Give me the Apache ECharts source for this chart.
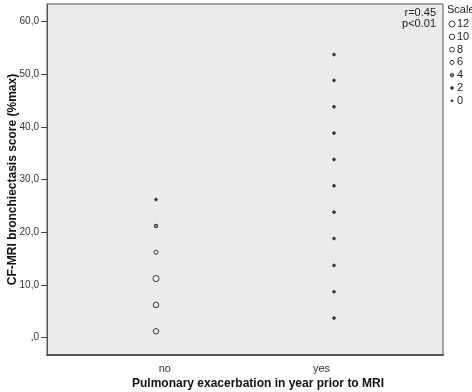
<!DOCTYPE html>
<html>
<head>
<meta charset="utf-8">
<script src="https://cdn.jsdelivr.net/npm/echarts@6/dist/echarts.min.js"></script>
<style>
  html, body { margin: 0; padding: 0; background: #fff; }
  #chart { width: 472px; height: 392px; }
</style>
</head>
<body>
<div id="chart"></div>
<script>
// groups on the x axis
var categories = ['no', 'yes'];
// bronchiectasis score (%max) and "Scale" size for each point
var noValues = [1.2, 6.2, 11.2, 16.2, 21.2, 26.2];
var noScale = [10, 10, 12, 6, 4, 2];
var yesValues = [3.7, 8.7, 13.7, 18.8, 23.8, 28.8, 33.8, 38.8, 43.8, 48.8, 53.7];
var yesScale = [2, 2, 2, 2, 2, 2, 2, 2, 2, 2, 2];
var yTicks = [0, 10, 20, 30, 40, 50, 60];
var legendScale = [12, 10, 8, 6, 4, 2, 0];

var FONT = '"Liberation Sans", Arial';

function sizeOf(scale) { return 2 + scale * 0.35; }
function fillOf(scale) { return scale <= 2 ? '#3a3a3a' : (scale <= 4 ? '#888' : 'rgba(0,0,0,0)'); }

function points(idx, vals, scales) {
  return vals.map(function (v, i) { return [idx + 1, v, scales[i]]; });
}

var chart = echarts.init(document.getElementById('chart'));

var legendItems = [{
  type: 'text', x: 447, y: 10,
  style: { text: 'Scale', font: '11px ' + FONT, fill: '#222', verticalAlign: 'middle' }
}];
legendScale.forEach(function (s, i) {
  var cy = 24 + i * 12.8;
  legendItems.push({
    type: 'circle', shape: { cx: 452, cy: cy, r: sizeOf(s) / 2 },
    style: { fill: fillOf(s), stroke: '#3a3a3a', lineWidth: 1 }
  });
  legendItems.push({
    type: 'text', x: 457, y: cy,
    style: { text: String(s), font: '11px ' + FONT, fill: '#222', verticalAlign: 'middle' }
  });
});
['r=0.45', 'p<0.01'].forEach(function (t, i) {
  legendItems.push({
    type: 'text', x: 436, y: 13 + i * 11,
    style: { text: t, font: '11px ' + FONT, fill: '#222', align: 'right', verticalAlign: 'middle' }
  });
});

var option = {
  animation: false,
  grid: {
    left: 47, right: 29, top: 4, bottom: 37,
    outerBoundsMode: 'none',
    show: true, backgroundColor: '#ebebeb', borderColor: '#555', borderWidth: 1
  },
  xAxis: {
    type: 'value', min: 0.388, max: 2.612,
    splitLine: { show: false },
    axisLine: { show: true, onZero: false, lineStyle: { color: '#555', width: 2 } },
    axisTick: { show: false },
    axisLabel: {
      customValues: [1.05, 1.93],
      formatter: function (v) { return categories[Math.round(v) - 1]; },
      color: '#333', fontSize: 11, fontFamily: FONT, margin: 8
    },
    name: 'Pulmonary exacerbation in year prior to MRI',
    nameLocation: 'middle', nameGap: 23, nameMoveOverlap: false,
    nameTextStyle: { fontWeight: 'bold', fontSize: 12, color: '#111',
                     fontFamily: FONT, padding: [0, 0, 0, 26] }
  },
  yAxis: {
    type: 'value', min: -3.3, max: 63.3,
    splitLine: { show: false },
    axisLine: { show: true, onZero: false, lineStyle: { color: '#555' } },
    axisTick: { show: true, customValues: yTicks, length: 6, lineStyle: { color: '#444' } },
    axisLabel: {
      customValues: yTicks,
      formatter: function (v) { return v === 0 ? ',0' : v.toFixed(1).replace('.', ','); },
      color: '#333', fontSize: 10, fontFamily: FONT, margin: 8
    },
    name: 'CF-MRI bronchiectasis score (%max)',
    nameLocation: 'middle', nameGap: 28, nameMoveOverlap: false,
    nameTextStyle: { fontWeight: 'bold', fontSize: 12, color: '#111', fontFamily: FONT }
  },
  series: [
    { name: categories[0], data: points(0, noValues, noScale) },
    { name: categories[1], data: points(1, yesValues, yesScale) }
  ].map(function (s) {
    return {
      type: 'scatter', name: s.name, data: s.data,
      symbol: 'circle',
      symbolSize: function (d) { return sizeOf(d[2]); },
      itemStyle: {
        color: function (p) { return fillOf(p.data[2]); },
        borderColor: '#3a3a3a', borderWidth: 1, opacity: 1
      }
    };
  }),
  graphic: legendItems
};

chart.setOption(option);
</script>
</body>
</html>
